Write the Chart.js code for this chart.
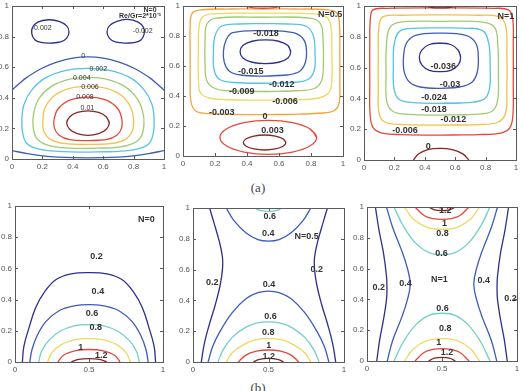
<!DOCTYPE html>
<html>
<head>
<meta charset="utf-8">
<script src="https://cdn.jsdelivr.net/npm/chart.js@4.4.1/dist/chart.umd.min.js"></script>
<style>
  body { margin: 0; width: 522px; height: 391px; overflow: hidden; background: #fff; position: relative; }
  canvas { position: absolute; }
  .cap { position: absolute; font: 13px "Liberation Serif", serif; color: #444; transform: translate(-50%, -50%); }
</style>
</head>
<body>
<div class="cap" style="left:258px;top:188px">(a)</div>
<div class="cap" style="left:258px;top:388px">(b)</div>
<canvas id="a1"></canvas>
<canvas id="a2"></canvas>
<canvas id="a3"></canvas>
<canvas id="b1"></canvas>
<canvas id="b2"></canvas>
<canvas id="b3"></canvas>
<script>
// tick values and labels
var ticksTop = [0, 0.2, 0.4, 0.6, 0.8, 1];
var ticksTopLabels = ['0', '0.2', '0.4', '0.6', '0.8', '1'];
var ticksHalf = [0, 0.5, 1];
var ticksHalfLabels = ['0', '0.5', '1'];

// ---- (a) N=0 : contour lines, [x, y]
var a1_m002L = [[0.25,0.757],[0.32,0.765],[0.36,0.79],[0.375,0.83],[0.36,0.87],[0.31,0.9],[0.24,0.91],[0.17,0.895],[0.135,0.86],[0.13,0.82],[0.15,0.78],[0.19,0.762]];
var a1_m002R = [[0.75,0.757],[0.81,0.762],[0.85,0.78],[0.87,0.82],[0.865,0.86],[0.83,0.895],[0.76,0.912],[0.69,0.9],[0.64,0.87],[0.625,0.83],[0.64,0.79],[0.68,0.765]];
var a1_0top = [[0,0.45],[0.05,0.495],[0.1,0.535],[0.2,0.595],[0.3,0.635],[0.4,0.66],[0.5,0.668],[0.6,0.66],[0.7,0.635],[0.8,0.595],[0.9,0.535],[0.95,0.495],[1,0.45]];
var a1_0bot = [[0,0.055],[0.1,0.035],[0.2,0.02],[0.3,0.012],[0.5,0.008],[0.7,0.012],[0.8,0.02],[0.9,0.035],[1,0.055]];
var a1_002 = [[0.5,0.045],[0.7,0.05],[0.82,0.065],[0.9,0.1],[0.93,0.17],[0.935,0.26],[0.92,0.36],[0.87,0.45],[0.78,0.53],[0.65,0.578],[0.5,0.592],[0.35,0.578],[0.22,0.53],[0.13,0.45],[0.08,0.36],[0.065,0.26],[0.07,0.17],[0.1,0.1],[0.18,0.065],[0.3,0.05]];
var a1_004 = [[0.5,0.07],[0.68,0.075],[0.78,0.095],[0.845,0.14],[0.868,0.22],[0.86,0.31],[0.82,0.4],[0.74,0.475],[0.62,0.522],[0.5,0.533],[0.38,0.522],[0.26,0.475],[0.18,0.4],[0.145,0.31],[0.138,0.22],[0.16,0.14],[0.22,0.095],[0.32,0.075]];
var a1_006 = [[0.5,0.095],[0.65,0.1],[0.74,0.125],[0.79,0.18],[0.8,0.26],[0.78,0.34],[0.72,0.415],[0.62,0.462],[0.5,0.475],[0.38,0.462],[0.28,0.415],[0.22,0.34],[0.204,0.26],[0.21,0.18],[0.26,0.125],[0.35,0.1]];
var a1_008 = [[0.5,0.12],[0.62,0.126],[0.69,0.155],[0.722,0.205],[0.722,0.265],[0.695,0.33],[0.62,0.385],[0.5,0.405],[0.38,0.385],[0.305,0.33],[0.278,0.265],[0.278,0.205],[0.31,0.155],[0.38,0.126]];
var a1_01 = [[0.64,0.235],[0.621,0.275],[0.57,0.304],[0.5,0.315],[0.43,0.304],[0.379,0.275],[0.36,0.235],[0.379,0.195],[0.43,0.166],[0.5,0.155],[0.57,0.166],[0.621,0.195]];
var a1_labels = [[0.195,0.854,'-0.002'],[0.86,0.837,'-0.002'],[0.469,0.675,'0'],[0.568,0.588,'0.002'],[0.459,0.527,'0.004'],[0.513,0.473,'0.006'],[0.48,0.407,'0.008'],[0.496,0.335,'0.01']];
var a1_notes = [[0.908,0.974,'N=0'],[0.842,0.935,'Re/Gr=2*10⁻³']];

// ---- (a) N=0.5
var a2_top = [[0.38,1],[0.44,0.988],[0.5,0.985],[0.56,0.988],[0.63,1]];
var a2_m003 = [[0.5,0.276],[0.7,0.278],[0.85,0.285],[0.94,0.3],[0.975,0.35],[0.98,0.5],[0.98,0.7],[0.978,0.88],[0.96,0.955],[0.9,0.975],[0.7,0.98],[0.5,0.98],[0.3,0.98],[0.12,0.975],[0.06,0.955],[0.045,0.88],[0.045,0.7],[0.045,0.5],[0.05,0.36],[0.08,0.3],[0.16,0.282],[0.3,0.277]];
var a2_m006 = [[0.5,0.372],[0.7,0.375],[0.84,0.385],[0.91,0.42],[0.93,0.5],[0.93,0.7],[0.925,0.86],[0.9,0.925],[0.82,0.948],[0.5,0.952],[0.18,0.948],[0.12,0.925],[0.1,0.86],[0.096,0.7],[0.097,0.5],[0.11,0.42],[0.17,0.385],[0.3,0.375]];
var a2_m009 = [[0.5,0.43],[0.7,0.435],[0.82,0.45],[0.865,0.5],[0.877,0.6],[0.875,0.78],[0.86,0.88],[0.8,0.918],[0.5,0.925],[0.2,0.918],[0.15,0.88],[0.138,0.78],[0.138,0.6],[0.15,0.5],[0.2,0.45],[0.3,0.435]];
var a2_m012 = [[0.5,0.485],[0.68,0.49],[0.78,0.51],[0.82,0.57],[0.825,0.68],[0.815,0.8],[0.77,0.865],[0.65,0.88],[0.5,0.882],[0.35,0.88],[0.24,0.865],[0.2,0.8],[0.19,0.68],[0.195,0.57],[0.23,0.51],[0.32,0.49]];
var a2_m015 = [[0.5,0.533],[0.65,0.54],[0.73,0.565],[0.765,0.625],[0.772,0.7],[0.755,0.775],[0.69,0.822],[0.5,0.836],[0.31,0.822],[0.27,0.775],[0.253,0.7],[0.258,0.625],[0.29,0.565],[0.36,0.54]];
var a2_m018 = [[0.673,0.695],[0.656,0.736],[0.598,0.765],[0.515,0.774],[0.432,0.765],[0.374,0.736],[0.357,0.695],[0.374,0.654],[0.432,0.625],[0.515,0.616],[0.598,0.625],[0.656,0.654]];
var a2_0 = [[0.835,0.124],[0.795,0.18],[0.684,0.222],[0.533,0.237],[0.382,0.222],[0.271,0.18],[0.231,0.124],[0.271,0.068],[0.382,0.026],[0.533,0.011],[0.684,0.026],[0.795,0.068]];
var a2_003 = [[0.643,0.09],[0.625,0.115],[0.577,0.133],[0.51,0.14],[0.443,0.133],[0.395,0.115],[0.377,0.09],[0.395,0.065],[0.443,0.047],[0.51,0.04],[0.577,0.047],[0.625,0.065]];
var a2_labels = [[0.519,0.818,'-0.018'],[0.423,0.562,'-0.015'],[0.617,0.478,'-0.012'],[0.367,0.429,'-0.009'],[0.6375,0.362,'-0.006'],[0.242,0.291,'-0.003'],[0.5125,0.262,'0'],[0.56,0.167,'0.003']];
var a2_notes = [[0.919,0.94,'N=0.5']];

// ---- (a) N=1
var a3_top = [[0.4,1],[0.45,0.99],[0.5,0.988],[0.56,0.99],[0.61,1]];
var a3_m006 = [[0.5,0.162],[0.75,0.165],[0.9,0.175],[0.96,0.21],[0.98,0.3],[0.982,0.5],[0.982,0.75],[0.978,0.92],[0.95,0.975],[0.85,0.985],[0.5,0.988],[0.15,0.985],[0.06,0.975],[0.042,0.92],[0.038,0.75],[0.038,0.5],[0.04,0.3],[0.06,0.21],[0.12,0.175],[0.25,0.165]];
var a3_m012 = [[0.5,0.227],[0.75,0.23],[0.88,0.245],[0.93,0.3],[0.94,0.45],[0.94,0.7],[0.93,0.88],[0.88,0.932],[0.75,0.94],[0.5,0.942],[0.25,0.94],[0.13,0.932],[0.1,0.88],[0.094,0.7],[0.094,0.45],[0.1,0.3],[0.14,0.245],[0.27,0.23]];
var a3_m018 = [[0.5,0.292],[0.72,0.296],[0.84,0.315],[0.878,0.38],[0.884,0.55],[0.88,0.75],[0.86,0.86],[0.78,0.895],[0.5,0.9],[0.24,0.895],[0.17,0.86],[0.148,0.75],[0.145,0.55],[0.15,0.38],[0.19,0.315],[0.3,0.296]];
var a3_m024 = [[0.5,0.368],[0.68,0.372],[0.79,0.395],[0.825,0.46],[0.83,0.6],[0.82,0.76],[0.78,0.84],[0.65,0.856],[0.5,0.858],[0.36,0.856],[0.24,0.84],[0.2,0.76],[0.193,0.6],[0.198,0.46],[0.23,0.395],[0.33,0.372]];
var a3_m03 = [[0.5,0.465],[0.63,0.474],[0.71,0.505],[0.745,0.57],[0.752,0.67],[0.735,0.76],[0.67,0.81],[0.5,0.824],[0.34,0.81],[0.28,0.76],[0.26,0.67],[0.265,0.57],[0.3,0.505],[0.37,0.474]];
var a3_m036 = [[0.636,0.666],[0.62,0.714],[0.57,0.75],[0.5,0.758],[0.43,0.75],[0.38,0.714],[0.364,0.666],[0.38,0.618],[0.43,0.582],[0.5,0.574],[0.57,0.582],[0.62,0.618]];
var a3_0 = [[0.325,0],[0.36,0.04],[0.42,0.068],[0.5,0.076],[0.58,0.068],[0.65,0.04],[0.69,0]];
var a3_labels = [[0.522,0.61,'-0.036'],[0.566,0.487,'-0.03'],[0.46,0.405,'-0.024'],[0.46,0.331,'-0.018'],[0.588,0.264,'-0.012'],[0.27,0.19,'-0.006'],[0.423,0.087,'0']];
var a3_notes = [[0.934,0.931,'N=1']];

// ---- (b) N=0
var b1_02 = [[0.05,0],[0.06,0.1],[0.095,0.22],[0.14,0.35],[0.2,0.45],[0.28,0.53],[0.38,0.565],[0.5,0.573],[0.62,0.565],[0.72,0.53],[0.8,0.45],[0.86,0.35],[0.905,0.22],[0.94,0.1],[0.95,0]];
var b1_04 = [[0.1,0],[0.115,0.08],[0.15,0.17],[0.21,0.26],[0.3,0.33],[0.4,0.36],[0.5,0.368],[0.6,0.36],[0.7,0.33],[0.79,0.26],[0.85,0.17],[0.885,0.08],[0.9,0]];
var b1_06 = [[0.16,0],[0.18,0.07],[0.23,0.14],[0.31,0.2],[0.4,0.232],[0.5,0.24],[0.6,0.232],[0.69,0.2],[0.77,0.14],[0.82,0.07],[0.84,0]];
var b1_08 = [[0.22,0],[0.25,0.06],[0.31,0.11],[0.4,0.142],[0.5,0.15],[0.6,0.142],[0.69,0.11],[0.75,0.06],[0.78,0]];
var b1_1 = [[0.29,0],[0.33,0.045],[0.41,0.073],[0.5,0.08],[0.59,0.073],[0.67,0.045],[0.71,0]];
var b1_12 = [[0.38,0],[0.43,0.017],[0.5,0.022],[0.57,0.017],[0.62,0]];
var b1_labels = [[0.55,0.673,'0.2'],[0.56,0.449,'0.4'],[0.52,0.31,'0.6'],[0.545,0.218,'0.8'],[0.444,0.09,'1'],[0.583,0.043,'1.2']];
var b1_notes = [[0.887,0.915,'N=0']];

// ---- (b) N=0.5
var b2_02L = [[0.11,1],[0.14,0.9],[0.175,0.78],[0.195,0.68],[0.195,0.6],[0.18,0.5],[0.15,0.38],[0.11,0.25],[0.075,0.12],[0.055,0]];
var b2_02R = [[0.89,1],[0.86,0.9],[0.825,0.78],[0.805,0.68],[0.805,0.6],[0.82,0.5],[0.85,0.38],[0.89,0.25],[0.925,0.12],[0.945,0]];
var b2_04top = [[0.22,1],[0.27,0.92],[0.35,0.84],[0.43,0.795],[0.5,0.785],[0.57,0.795],[0.65,0.84],[0.73,0.92],[0.78,1]];
var b2_06top = [[0.41,1],[0.45,0.983],[0.5,0.978],[0.55,0.983],[0.59,1]];
var b2_04 = [[0.1,0],[0.13,0.1],[0.18,0.2],[0.26,0.32],[0.35,0.41],[0.43,0.45],[0.5,0.46],[0.57,0.45],[0.65,0.41],[0.74,0.32],[0.82,0.2],[0.87,0.1],[0.9,0]];
var b2_06 = [[0.165,0],[0.2,0.08],[0.26,0.16],[0.34,0.22],[0.42,0.252],[0.5,0.26],[0.58,0.252],[0.66,0.22],[0.74,0.16],[0.8,0.08],[0.835,0]];
var b2_08 = [[0.22,0],[0.26,0.06],[0.33,0.11],[0.41,0.143],[0.5,0.152],[0.59,0.143],[0.67,0.11],[0.74,0.06],[0.78,0]];
var b2_1 = [[0.3,0],[0.35,0.045],[0.42,0.07],[0.5,0.078],[0.58,0.07],[0.65,0.045],[0.7,0]];
var b2_12 = [[0.4,0],[0.44,0.017],[0.5,0.024],[0.56,0.017],[0.6,0]];
var b2_labels = [[0.509,0.946,'0.6'],[0.498,0.837,'0.4'],[0.819,0.602,'0.2'],[0.128,0.515,'0.2'],[0.504,0.5,'0.4'],[0.513,0.298,'0.6'],[0.498,0.189,'0.8'],[0.502,0.107,'1'],[0.502,0.037,'1.2']];
var b2_notes = [[0.752,0.815,'N=0.5']];

// ---- (b) N=1
var b3_02L = [[0.056,1],[0.08,0.85],[0.11,0.7],[0.13,0.55],[0.133,0.48],[0.13,0.4],[0.11,0.27],[0.085,0.14],[0.065,0]];
var b3_02R = [[0.944,1],[0.92,0.85],[0.89,0.7],[0.87,0.55],[0.867,0.48],[0.87,0.4],[0.89,0.27],[0.915,0.14],[0.935,0]];
var b3_04L = [[0.13,1],[0.17,0.87],[0.23,0.72],[0.27,0.6],[0.288,0.5],[0.27,0.4],[0.23,0.28],[0.17,0.13],[0.135,0]];
var b3_04R = [[0.87,1],[0.83,0.87],[0.77,0.72],[0.73,0.6],[0.712,0.5],[0.73,0.4],[0.77,0.28],[0.83,0.13],[0.865,0]];
var b3_06top = [[0.18,1],[0.24,0.88],[0.32,0.77],[0.41,0.705],[0.5,0.69],[0.59,0.705],[0.68,0.77],[0.76,0.88],[0.82,1]];
var b3_08top = [[0.25,1],[0.31,0.92],[0.4,0.868],[0.5,0.855],[0.6,0.868],[0.69,0.92],[0.75,1]];
var b3_1top = [[0.32,1],[0.38,0.945],[0.44,0.925],[0.5,0.92],[0.56,0.925],[0.62,0.945],[0.68,1]];
var b3_12top = [[0.41,1],[0.45,0.982],[0.5,0.977],[0.55,0.982],[0.59,1]];
var b3_06bot = [[0.18,0],[0.24,0.12],[0.32,0.23],[0.41,0.295],[0.5,0.31],[0.59,0.295],[0.68,0.23],[0.76,0.12],[0.82,0]];
var b3_08bot = [[0.25,0],[0.31,0.08],[0.4,0.132],[0.5,0.145],[0.6,0.132],[0.69,0.08],[0.75,0]];
var b3_1bot = [[0.32,0],[0.38,0.055],[0.44,0.075],[0.5,0.08],[0.56,0.075],[0.62,0.055],[0.68,0]];
var b3_12bot = [[0.41,0],[0.45,0.018],[0.5,0.023],[0.55,0.018],[0.59,0]];
var b3_labels = [[0.522,0.978,'1.2'],[0.516,0.892,'1'],[0.504,0.827,'0.8'],[0.496,0.698,'0.6'],[0.256,0.503,'0.4'],[0.778,0.525,'0.4'],[0.078,0.477,'0.2'],[0.956,0.406,'0.2'],[0.504,0.341,'0.6'],[0.522,0.212,'0.8'],[0.478,0.119,'1'],[0.533,0.054,'1.2']];
var b3_notes = [[0.482,0.529,'N=1']];

// colours (jet-like)
var NAVY = '#2c3189', BLUE = '#3d5cb8', CYAN = '#55c4e4', TEAL = '#72d0c4', GREEN = '#a0cb70',
    YELLOW = '#efd85e', AMBER = '#f4c048', ORANGE = '#f4a43e', RED = '#e5483a', DRED = '#8a2424';

var PAD_L = 30, PAD_T = 8, PAD_R = 10, PAD_B = 16;
var FONT = '"Liberation Sans", Arial, sans-serif';

function toXY(pts, closed) {
  var src = closed ? pts.concat([pts[0], pts[1]]) : pts;
  return src.map(function (p) { return { x: p[0], y: p[1] }; });
}

function framePlugin(labels, notes, labelFont, noteFont) {
  return {
    id: 'frame',
    afterDatasetsDraw: function (chart) {
      var a = chart.chartArea, ctx = chart.ctx, xs = chart.scales.x, ys = chart.scales.y;
      ctx.save();
      ctx.strokeStyle = '#5a5a5a';
      ctx.lineWidth = 1;
      ctx.strokeRect(Math.round(a.left) + 0.5, Math.round(a.top) + 0.5,
        Math.round(a.right - a.left), Math.round(a.bottom - a.top));
      ctx.beginPath();
      xs.ticks.forEach(function (t) {
        var px = Math.round(xs.getPixelForValue(t.value)) + 0.5;
        ctx.moveTo(px, a.bottom); ctx.lineTo(px, a.bottom - 3);
        ctx.moveTo(px, a.top); ctx.lineTo(px, a.top + 3);
      });
      ys.ticks.forEach(function (t) {
        var py = Math.round(ys.getPixelForValue(t.value)) + 0.5;
        ctx.moveTo(a.left, py); ctx.lineTo(a.left + 3, py);
        ctx.moveTo(a.right, py); ctx.lineTo(a.right - 3, py);
      });
      ctx.stroke();
      ctx.fillStyle = '#333';
      ctx.textAlign = 'center';
      ctx.textBaseline = 'middle';
      ctx.font = labelFont;
      labels.forEach(function (l) {
        ctx.fillText(l[2], xs.getPixelForValue(l[0]), ys.getPixelForValue(l[1]));
      });
      ctx.font = noteFont;
      notes.forEach(function (l) {
        ctx.fillText(l[2], xs.getPixelForValue(l[0]), ys.getPixelForValue(l[1]));
      });
      ctx.restore();
    }
  };
}

function makePanel(id, box, curves, labels, notes, xTicks, xLabels, labelFont, noteFont) {
  var cv = document.getElementById(id);
  var w = box[2] - box[0], h = box[3] - box[1];
  cv.width = w + PAD_L + PAD_R;
  cv.height = h + PAD_T + PAD_B;
  cv.style.left = (box[0] - PAD_L) + 'px';
  cv.style.top = (box[1] - PAD_T) + 'px';
  new Chart(cv, {
    type: 'scatter',
    data: {
      datasets: curves.map(function (c) {
        return {
          data: toXY(c[0], c[2]),
          borderColor: c[1],
          borderWidth: 1.3,
          showLine: true,
          pointRadius: 0,
          tension: 0.4,
          fill: false
        };
      })
    },
    options: {
      responsive: false,
      animation: false,
      devicePixelRatio: 1,
      layout: { autoPadding: false, padding: { left: 0, top: PAD_T, right: PAD_R, bottom: 0 } },
      plugins: { legend: { display: false }, tooltip: { enabled: false } },
      scales: {
        x: {
          type: 'linear', min: 0, max: 1,
          afterBuildTicks: function (s) { s.ticks = xTicks.map(function (v) { return { value: v }; }); },
          afterFit: function (s) { s.height = PAD_B; },
          grid: { display: false, drawTicks: false }, border: { display: false },
          ticks: {
            padding: 3, color: '#555', font: { family: FONT, size: 8 }, maxRotation: 0, autoSkip: false,
            callback: function (v, i) { return xLabels[i]; }
          }
        },
        y: {
          type: 'linear', min: 0, max: 1,
          afterBuildTicks: function (s) { s.ticks = ticksTop.map(function (v) { return { value: v }; }); },
          afterFit: function (s) { s.width = PAD_L; },
          grid: { display: false, drawTicks: false }, border: { display: false },
          ticks: {
            padding: 3, color: '#555', font: { family: FONT, size: 8 }, autoSkip: false,
            callback: function (v, i) { return ticksTopLabels[i]; }
          }
        }
      }
    },
    plugins: [framePlugin(labels, notes, labelFont, noteFont)]
  });
}

var LF_SMALL = '7px ' + FONT, NF_SMALL = 'bold 7px ' + FONT;
var LF = 'bold 9px ' + FONT;

makePanel('a1', [12, 6, 164, 159], [
  [a1_m002L, NAVY, true], [a1_m002R, NAVY, true], [a1_0top, BLUE, false], [a1_0bot, BLUE, false],
  [a1_002, CYAN, true], [a1_004, GREEN, true], [a1_006, AMBER, true], [a1_008, RED, true], [a1_01, DRED, true]
], a1_labels, a1_notes, ticksTop, ticksTopLabels, LF_SMALL, NF_SMALL);

makePanel('a2', [183, 6, 343, 156], [
  [a2_top, RED, false], [a2_m003, ORANGE, true], [a2_m006, YELLOW, true], [a2_m009, GREEN, true],
  [a2_m012, CYAN, true], [a2_m015, BLUE, true], [a2_m018, NAVY, true], [a2_0, RED, true], [a2_003, DRED, true]
], a2_labels, a2_notes, ticksTop, ticksTopLabels, LF, LF);

makePanel('a3', [364, 6, 516, 160], [
  [a3_top, DRED, false], [a3_m006, RED, true], [a3_m012, AMBER, true], [a3_m018, GREEN, true],
  [a3_m024, CYAN, true], [a3_m03, BLUE, true], [a3_m036, NAVY, true], [a3_0, DRED, false]
], a3_labels, a3_notes, ticksTop, ticksTopLabels, LF, LF);

makePanel('b1', [15, 206, 163, 362], [
  [b1_02, NAVY, false], [b1_04, BLUE, false], [b1_06, TEAL, false], [b1_08, YELLOW, false], [b1_1, RED, false], [b1_12, DRED, false]
], b1_labels, b1_notes, ticksHalf, ticksHalfLabels, LF, LF);

makePanel('b2', [193, 208, 344, 362], [
  [b2_02L, NAVY, false], [b2_02R, NAVY, false], [b2_04top, BLUE, false], [b2_06top, TEAL, false],
  [b2_04, BLUE, false], [b2_06, TEAL, false], [b2_08, YELLOW, false], [b2_1, RED, false], [b2_12, DRED, false]
], b2_labels, b2_notes, ticksHalf, ticksHalfLabels, LF, LF);

makePanel('b3', [367, 207, 517, 361], [
  [b3_02L, NAVY, false], [b3_02R, NAVY, false], [b3_04L, BLUE, false], [b3_04R, BLUE, false],
  [b3_06top, TEAL, false], [b3_08top, YELLOW, false], [b3_1top, RED, false], [b3_12top, DRED, false],
  [b3_06bot, TEAL, false], [b3_08bot, YELLOW, false], [b3_1bot, RED, false], [b3_12bot, DRED, false]
], b3_labels, b3_notes, ticksHalf, ticksHalfLabels, LF, LF);
</script>
</body>
</html>
